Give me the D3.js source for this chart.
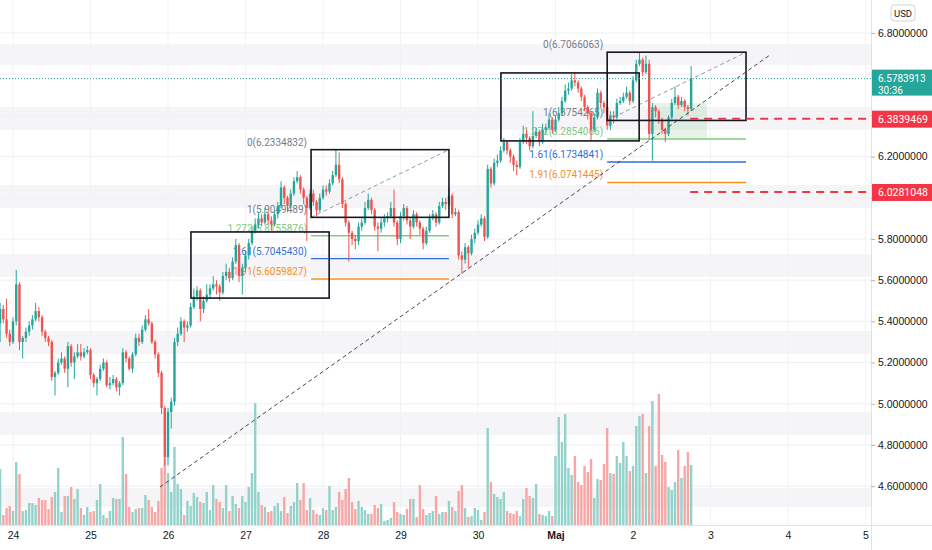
<!DOCTYPE html>
<html>
<head>
<meta charset="utf-8">
<script src="https://cdn.jsdelivr.net/npm/d3@7"></script>
<style>
  body { margin: 0; background: #fff; }
  svg { display: block; font-family: Roboto, "Liberation Sans", sans-serif; }
</style>
</head>
<body>
<div id="chart"></div>
<script>
// hourly candles, first one is 23 Apr 20:00, opens equal previous close
const firstOpen = 5.39;
const closes = [
  5.46,5.41,5.34,5.30,5.40,5.58,5.30,5.32,5.35,5.38,
  5.41,5.45,5.42,5.35,5.32,5.30,5.13,5.15,5.20,5.22,
  5.17,5.28,5.20,5.23,5.25,5.23,5.25,5.26,5.14,5.10,
  5.12,5.17,5.20,5.09,5.10,5.12,5.08,5.10,5.25,5.22,
  5.17,5.24,5.32,5.30,5.36,5.41,5.39,5.30,5.24,5.15,
  4.98,4.74,4.96,5.01,5.30,5.34,5.40,5.37,5.38,5.47,
  5.52,5.55,5.46,5.50,5.53,5.56,5.58,5.57,5.54,5.62,
  5.64,5.61,5.69,5.77,5.62,5.66,5.72,5.78,5.84,5.87,
  5.90,5.88,5.92,5.89,5.87,5.92,5.96,6.05,6.00,5.96,
  6.02,6.08,6.10,6.04,6.00,5.95,6.02,5.98,5.94,6.00,
  6.04,6.03,6.07,6.11,6.16,6.09,5.97,5.88,5.83,5.80,
  5.79,5.86,5.88,5.95,5.99,5.94,5.86,5.85,5.88,5.90,
  5.91,5.95,5.88,5.80,5.91,5.95,5.89,5.86,5.92,5.88,
  5.85,5.78,5.84,5.90,5.92,5.88,5.96,5.98,5.97,6.01,
  5.92,5.93,5.72,5.70,5.76,5.73,5.80,5.83,5.87,5.90,
  5.81,6.14,6.07,6.17,6.18,6.23,6.27,6.23,6.20,6.16,
  6.15,6.27,6.31,6.29,6.25,6.30,6.32,6.27,6.33,6.34,
  6.38,6.33,6.38,6.41,6.47,6.52,6.53,6.57,6.56,6.53,
  6.49,6.44,6.41,6.33,6.39,6.51,6.46,6.44,6.35,6.40,
  6.39,6.46,6.47,6.49,6.51,6.47,6.57,6.65,6.67,6.61,
  6.65,6.31,6.44,6.42,6.38,6.33,6.31,6.39,6.46,6.49,
  6.45,6.47,6.44,6.43,6.5783913
];
const highs = [
  5.49,5.48,5.51,5.36,5.42,5.65,5.59,5.33,5.37,5.40,
  5.43,5.49,5.47,5.43,5.36,5.33,5.31,5.16,5.22,5.25,
  5.23,5.30,5.29,5.25,5.29,5.29,5.27,5.28,5.27,5.15,
  5.13,5.19,5.22,5.21,5.13,5.14,5.13,5.11,5.27,5.26,
  5.23,5.25,5.34,5.34,5.38,5.43,5.46,5.40,5.31,5.25,
  5.16,4.99,4.98,5.03,5.32,5.37,5.42,5.41,5.40,5.49,
  5.56,5.57,5.56,5.52,5.58,5.58,5.62,5.60,5.58,5.64,
  5.68,5.66,5.71,5.80,5.78,5.68,5.74,5.80,5.86,5.90,
  5.93,5.92,5.95,5.93,5.91,5.94,5.98,6.08,6.06,6.01,
  6.04,6.10,6.13,6.11,6.05,6.01,6.04,6.04,5.99,6.02,
  6.06,6.06,6.09,6.13,6.2334832,6.22,6.10,5.98,5.89,5.84,
  5.82,5.88,5.90,5.98,6.02,6.00,5.95,5.88,5.90,5.92,
  5.93,5.98,6.04,5.89,5.93,5.97,5.96,5.90,5.94,5.93,
  5.89,5.86,5.86,5.92,5.94,5.93,5.98,6.00,6.00,6.05,
  6.02,5.95,5.94,5.74,5.78,5.77,5.82,5.85,5.89,5.92,
  5.91,6.16,6.15,6.19,6.21,6.25,6.29,6.28,6.24,6.21,
  6.18,6.29,6.35,6.33,6.30,6.42,6.34,6.33,6.36,6.36,
  6.41,6.39,6.40,6.44,6.49,6.55,6.56,6.60,6.61,6.57,
  6.54,6.50,6.45,6.42,6.41,6.53,6.52,6.47,6.45,6.42,
  6.42,6.48,6.49,6.51,6.54,6.52,6.59,6.67,6.7066063,6.68,
  6.69,6.67,6.46,6.45,6.43,6.39,6.34,6.40,6.48,6.54,
  6.50,6.49,6.48,6.45,6.64
];
const lows = [
  5.30,5.39,5.32,5.28,5.29,5.38,5.26,5.22,5.30,5.33,
  5.36,5.40,5.40,5.33,5.30,5.28,5.11,5.04,5.14,5.19,
  5.15,5.08,5.18,5.12,5.22,5.21,5.22,5.24,5.12,5.08,
  5.04,5.11,5.16,5.08,5.07,5.09,5.06,5.04,5.09,5.20,
  5.16,5.15,5.23,5.28,5.29,5.35,5.38,5.29,5.22,5.13,
  4.95,4.70,4.70,4.88,4.99,5.28,5.33,5.30,5.35,5.37,
  5.46,5.50,5.40,5.44,5.49,5.51,5.55,5.53,5.50,5.53,
  5.60,5.59,5.60,5.68,5.59,5.53,5.64,5.70,5.77,5.83,
  5.85,5.86,5.87,5.87,5.84,5.86,5.90,5.95,5.97,5.93,
  5.95,6.01,6.07,6.02,5.97,5.79,5.94,5.96,5.91,5.93,
  5.99,6.01,6.02,6.06,6.10,6.07,5.95,5.86,5.69,5.77,
  5.75,5.77,5.84,5.87,5.94,5.92,5.84,5.74,5.83,5.86,
  5.88,5.90,5.86,5.77,5.78,5.89,5.87,5.80,5.85,5.86,
  5.82,5.75,5.77,5.83,5.89,5.86,5.87,5.95,5.94,5.96,
  5.90,5.91,5.70,5.63,5.68,5.66,5.72,5.78,5.82,5.86,
  5.79,5.80,6.05,6.06,6.15,6.17,6.22,6.21,6.17,6.13,
  6.11,6.14,6.26,6.26,6.23,6.24,6.29,6.25,6.26,6.31,
  6.33,6.31,6.32,6.37,6.40,6.46,6.50,6.52,6.54,6.51,
  6.47,6.42,6.38,6.28,6.32,6.38,6.44,6.41,6.33,6.33,
  6.36,6.38,6.45,6.46,6.48,6.45,6.46,6.56,6.64,6.59,
  6.60,6.28,6.18,6.39,6.36,6.31,6.27,6.30,6.38,6.45,
  6.43,6.44,6.42,6.40,6.42
];
const volumes = [
  56,10,17,19,14,63,51,14,15,22,
  22,20,27,25,25,16,28,33,57,13,
  29,29,38,26,36,17,10,18,13,14,
  25,41,10,7,14,27,26,26,88,51,
  18,13,16,17,17,30,25,18,13,24,
  57,67,52,33,78,41,36,10,24,19,
  32,28,23,22,33,15,40,26,23,17,
  40,14,29,21,17,29,23,38,52,122,
  33,20,18,13,14,19,22,14,28,12,
  19,23,42,25,42,15,27,15,11,10,
  17,15,39,15,18,33,25,36,47,23,
  16,24,18,15,11,11,20,17,21,4,
  5,7,23,13,11,10,16,26,26,8,
  40,16,10,12,14,29,11,13,13,24,
  18,14,34,40,17,8,9,17,15,5,
  13,97,43,31,28,26,33,14,12,11,
  14,9,26,37,29,27,41,11,10,9,
  14,9,69,108,83,111,57,50,69,43,
  40,59,53,66,27,46,45,61,97,52,
  51,69,62,83,69,54,59,99,109,111,
  52,99,124,59,131,70,63,38,35,43,
  75,47,59,73,60
];

// day ticks (hours after 24 Apr 00:00) and price ticks
const dayTicks = [0,24,48,72,96,120,144,168,192,216,240,264];
const priceTicks = [4.6,4.8,5.0,5.2,5.4,5.6,5.8,6.0,6.2,6.4,6.6,6.8];
const bands = [[6.644,6.746],[6.329,6.441],[5.950,6.062],[5.616,5.727],[5.242,5.353],[4.848,4.960],[4.499,4.591]];

// drawings: [startHour, endHour, lowPrice, highPrice]
const boxes = [
  [55.1, 97.9, 5.513, 5.834],
  [92.3, 135.0, 5.9049489, 6.2334832],
  [151.1, 193.9, 6.276, 6.606],
  [184.0, 227.0, 6.3754265, 6.7066063]
];
const fibNames = ["0", "1", "1.272", "1.61", "1.91"];
const fibColors = ["#787b86", "#787b86", "#81c784", "#2f6fd6", "#f5901e"];
const fibA = { t0: 92.3, t1: 135.0, levels: [6.2334832, 5.9049489, 5.8155876, 5.7045430, 5.6059827] };
const fibB = { t0: 184.0, t1: 227.0, levels: [6.7066063, 6.3754265, 6.2854066, 6.1734841, 6.0741445] };
const trend = [[45.5, 4.596], [234.4, 6.693]];
const zone = [198.2, 214.9, 6.290, 6.460];
const alertLevels = [6.3839469, 6.0281048];
const alertStart = 209.7;
const lastPrice = 6.5783913;
const countdown = "30:36";

const W = 932, Hgt = 550, plotW = 871, plotH = 525;
const HOUR = 3600e3;
const base = Date.UTC(2023, 3, 24);
const at = h => new Date(base + h * HOUR);

const x = d3.scaleTime().domain([at(-4.03), at(265.7)]).range([0, plotW]);
const y = d3.scaleLinear().domain([4.4115, 6.96]).range([plotH, 0]);
const yVol = d3.scaleLinear().domain([0, 130]).range([plotH, plotH - 130]);

const candles = closes.map((c, i) => ({
  t: at(i - 4),
  o: i ? closes[i - 1] : firstOpen,
  h: highs[i], l: lows[i], c,
  v: volumes[i]
}));

const up = "#26a69a", down = "#ef5350";

const svg = d3.select("#chart").append("svg")
    .attr("width", W)
    .attr("height", Hgt);

svg.append("clipPath").attr("id", "plot")
  .append("rect").attr("width", plotW).attr("height", plotH);

const plot = svg.append("g").attr("clip-path", "url(#plot)");

// background bands and grid
plot.selectAll(".band").data(bands).enter().append("rect")
    .attr("x", 0).attr("width", plotW)
    .attr("y", d => y(d[1]))
    .attr("height", d => y(d[0]) - y(d[1]))
    .attr("fill", "#f5f5f7");

plot.selectAll(".hgrid").data(priceTicks).enter().append("line")
    .attr("x1", 0).attr("x2", plotW)
    .attr("y1", d => y(d)).attr("y2", d => y(d))
    .attr("stroke", "#eef0f3");

plot.selectAll(".vgrid").data(dayTicks).enter().append("line")
    .attr("x1", d => x(at(d))).attr("x2", d => x(at(d)))
    .attr("y1", 0).attr("y2", plotH)
    .attr("stroke", "#f1f2f5");

// volume
plot.selectAll(".vol").data(candles).enter().append("rect")
    .attr("x", d => x(d.t) - 1.2)
    .attr("width", 2.4)
    .attr("y", d => yVol(d.v))
    .attr("height", d => plotH - yVol(d.v))
    .attr("fill", d => d.c >= d.o ? "#92d2cb" : "#f6a7a5");

// green zone
plot.append("rect")
    .attr("x", x(at(zone[0])))
    .attr("width", x(at(zone[1])) - x(at(zone[0])))
    .attr("y", y(zone[3]))
    .attr("height", y(zone[2]) - y(zone[3]))
    .attr("fill", "rgba(102,187,106,0.16)");

// fib levels and labels
function drawFib(f) {
  const g = plot.append("g");
  const x0 = x(at(f.t0)), x1 = x(at(f.t1));
  f.levels.forEach((p, k) => {
    if (k > 1) {
      g.append("line")
          .attr("x1", x0).attr("x2", x1)
          .attr("y1", y(p)).attr("y2", y(p))
          .attr("stroke", fibColors[k])
          .attr("stroke-width", 1.4);
    }
    g.append("text")
        .attr("x", x0 - 4)
        .attr("y", y(p) - 4)
        .attr("text-anchor", "end")
        .style("font-size", "10px")
        .style("fill", fibColors[k])
        .text(`${fibNames[k]}(${p.toFixed(7)})`);
  });
  g.append("line")
      .attr("x1", x0).attr("y1", y(f.levels[1]))
      .attr("x2", x1).attr("y2", y(f.levels[0]))
      .attr("stroke", "#9598a1")
      .attr("stroke-dasharray", "4,3");
}
drawFib(fibA);
drawFib(fibB);

// candles
const cg = plot.selectAll(".candle").data(candles).enter().append("g");
cg.append("line")
    .attr("x1", d => x(d.t)).attr("x2", d => x(d.t))
    .attr("y1", d => y(d.h)).attr("y2", d => y(d.l))
    .attr("stroke", d => d.c >= d.o ? up : down);
cg.append("rect")
    .attr("x", d => x(d.t) - 1.2)
    .attr("width", 2.4)
    .attr("y", d => y(Math.max(d.o, d.c)))
    .attr("height", d => Math.max(1, Math.abs(y(d.o) - y(d.c))))
    .attr("fill", d => d.c >= d.o ? up : down);

// boxes
plot.selectAll(".box").data(boxes).enter().append("rect")
    .attr("x", d => x(at(d[0])))
    .attr("width", d => x(at(d[1])) - x(at(d[0])))
    .attr("y", d => y(d[3]))
    .attr("height", d => y(d[2]) - y(d[3]))
    .attr("fill", "none")
    .attr("stroke", "#131722")
    .attr("stroke-width", 1.6);

// trend line
plot.append("line")
    .attr("x1", x(at(trend[0][0]))).attr("y1", y(trend[0][1]))
    .attr("x2", x(at(trend[1][0]))).attr("y2", y(trend[1][1]))
    .attr("stroke", "#434651")
    .attr("stroke-dasharray", "4,3");

// alert lines and last price line
plot.selectAll(".alert").data(alertLevels).enter().append("line")
    .attr("x1", x(at(alertStart))).attr("x2", plotW)
    .attr("y1", d => y(d)).attr("y2", d => y(d))
    .attr("stroke", "#f23645")
    .attr("stroke-width", 2)
    .attr("stroke-dasharray", "8,6");

plot.append("line")
    .attr("x1", 0).attr("x2", plotW)
    .attr("y1", y(lastPrice)).attr("y2", y(lastPrice))
    .attr("stroke", up)
    .attr("stroke-dasharray", "1,2");

// axes
svg.append("line").attr("x1", plotW + 0.5).attr("x2", plotW + 0.5)
    .attr("y1", 0).attr("y2", Hgt).attr("stroke", "#e0e3eb");
svg.append("line").attr("x1", 0).attr("x2", W)
    .attr("y1", plotH + 0.5).attr("y2", plotH + 0.5).attr("stroke", "#e0e3eb");

// tick labels that sit under a price tag are hidden, as on the original
const tagSpans = [[y(lastPrice) - 9, y(lastPrice) + 17]]
  .concat(alertLevels.map(p => [y(p) - 8, y(p) + 9]));
const covered = v => tagSpans.some(s => y(v) + 6 > s[0] && y(v) - 6 < s[1]);

const yAxis = svg.append("g")
    .attr("transform", `translate(${plotW},0)`)
    .call(d3.axisRight(y).tickValues(priceTicks).tickFormat(d3.format(".7f")).tickSize(4).tickPadding(3));
yAxis.select(".domain").remove();
yAxis.selectAll("line").attr("stroke", "#b2b5be");
yAxis.selectAll("text").style("font-size", "10.5px").style("fill", "#131722");
yAxis.selectAll(".tick").filter(d => covered(d)).select("text").remove();

const xAxis = svg.append("g")
    .attr("transform", `translate(0,${plotH})`)
    .call(d3.axisBottom(x).tickValues(dayTicks.map(at)).tickSize(0).tickPadding(7)
      .tickFormat(d => d.getUTCDate() === 1 ? "Maj" : d.getUTCDate()));
xAxis.select(".domain").remove();
xAxis.selectAll("text")
    .style("font-size", "10.5px")
    .style("fill", "#131722")
    .style("font-weight", d => d.getUTCDate() === 1 ? 600 : 400);

// price labels on the axis
const tag = svg.append("g");
tag.append("rect")
    .attr("x", plotW + 1).attr("width", W - plotW - 1)
    .attr("y", y(lastPrice) - 9).attr("height", 26)
    .attr("fill", up);
tag.append("text")
    .attr("x", plotW + 7).attr("y", y(lastPrice) + 3.5)
    .style("font-size", "10px").style("fill", "#fff")
    .text(lastPrice.toFixed(7));
tag.append("text")
    .attr("x", plotW + 7).attr("y", y(lastPrice) + 15.5)
    .style("font-size", "10px").style("fill", "#fff")
    .text(countdown);

const alertTags = svg.selectAll(".atag").data(alertLevels).enter().append("g");
alertTags.append("rect")
    .attr("x", plotW + 1).attr("width", W - plotW - 1)
    .attr("y", d => y(d) - 8).attr("height", 17)
    .attr("fill", "#f23645");
alertTags.append("text")
    .attr("x", plotW + 7).attr("y", d => y(d) + 4)
    .style("font-size", "10.5px").style("fill", "#fff")
    .text(d => d.toFixed(7));

// currency badge
svg.append("rect")
    .attr("x", 891).attr("y", 5).attr("width", 24).attr("height", 16)
    .attr("rx", 3)
    .attr("fill", "#fff").attr("stroke", "#d1d4dc");
svg.append("text")
    .attr("x", 903).attr("y", 16.5)
    .attr("text-anchor", "middle")
    .style("font-size", "9.5px").style("fill", "#131722")
    .text("USD");
</script>
</body>
</html>
